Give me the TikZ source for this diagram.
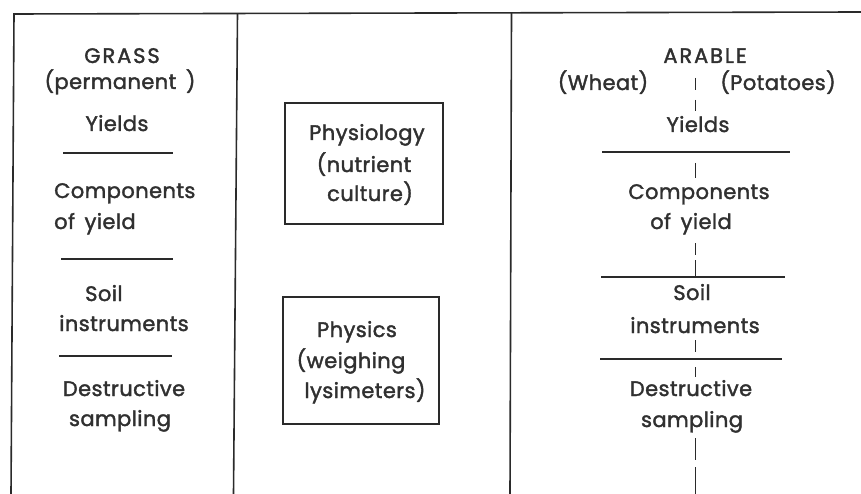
\documentclass[tikz,border=0pt]{standalone}
\usepackage{fontspec}
\setmainfont{Poppins}[FakeBold=1.7,LetterSpace=2,WordSpace=1.6]
\newfontfamily\headfont{Poppins}[FakeBold=1.7,LetterSpace=9]
\definecolor{ink}{HTML}{2A2A2A}
\definecolor{txtc}{HTML}{303030}
\tikzset{
  rule/.style={draw=ink, line width=1.6pt},
  thin/.style={draw=ink, line width=1.4pt},
  txt/.style={font=\fontsize{21}{25}\selectfont, text=txtc, inner sep=0pt, anchor=base},
  head/.style={font=\headfont\fontsize{21}{25}\selectfont, text=txtc, inner sep=0pt, anchor=base},
  boxc/.style={draw=ink, line width=1.5pt},
}
\begin{document}
\begin{tikzpicture}[x=1pt,y=-1pt]
\useasboundingbox[fill=white] (0,0) rectangle (861,494);
% frame
\coordinate (tl) at (14,14);
\coordinate (tr) at (861,12);
\coordinate (bl) at (11,494);
\draw[rule] (tr) -- (tl) -- (bl);
\draw[rule] (237.5,13.5) -- (233.5,494);
\draw[rule] (511.5,13) -- (510,494);
% left column
\node[head] (grass) at (122,63) {GRASS};
\node[txt] (perm) at (120,89) {(permanent )};
\node[txt] (lyield) at (117,131) {Yields};
\draw[thin] (63,153) -- (173,153);
\node[txt, anchor=base west] (lcomp) at (54,198) {Components};
\node[txt, anchor=base west] (lofy) at (54,229) {of yield};
\draw[thin] (61,259) -- (173,259);
\node[txt, anchor=base west] (lsoil) at (85,301) {Soil};
\node[txt] (linst) at (124,331) {instruments};
\draw[thin] (59,356) -- (172,356);
\node[txt] (ldest) at (124,396) {Destructive};
\node[txt] (lsamp) at (120,426) {sampling};
% middle boxes
\draw[boxc] (285,103) rectangle (443,224);
\node[txt] (phys1) at (367,140) {Physiology};
\node[txt] (phys2) at (364,172) {(nutrient};
\node[txt] (phys3) at (370,201) {culture)};
\draw[boxc] (283,297) rectangle (439,424);
\node[txt] (pha) at (357,337) {Physics};
\node[txt] (phb) at (351,368) {(weighing};
\node[txt] (phc) at (365,398) {lysimeters)};
% right column
\node[head] (arable) at (705,63) {ARABLE};
\node[txt] (wheat) at (603,90) {(Wheat)};
\node[txt] (pot) at (778,90) {(Potatoes)};
\node[txt] (ryield) at (698,132) {Yields};
\draw[thin] (602,152) -- (790,152);
\node[txt] (rcomp) at (699,199) {Components};
\node[txt] (rofy) at (691,229) {of yield};
\draw[thin] (601,277) -- (785,277);
\node[txt] (rsoil) at (692,300) {Soil};
\node[txt] (rinst) at (695,333) {instruments};
\draw[thin] (600,359) -- (782,359);
\node[txt] (rdest) at (691,396) {Destructive};
\node[txt] (rsamp) at (692,427) {sampling};
% dashed vertical
\foreach \a/\b in {78/90,100/111,163/178,243/255,260/277,340/352,367/377,438/460,467/494}
  \draw[ink, line width=1.5pt] (695.5,\a) -- (695.5,\b);
\end{tikzpicture}
\end{document}
